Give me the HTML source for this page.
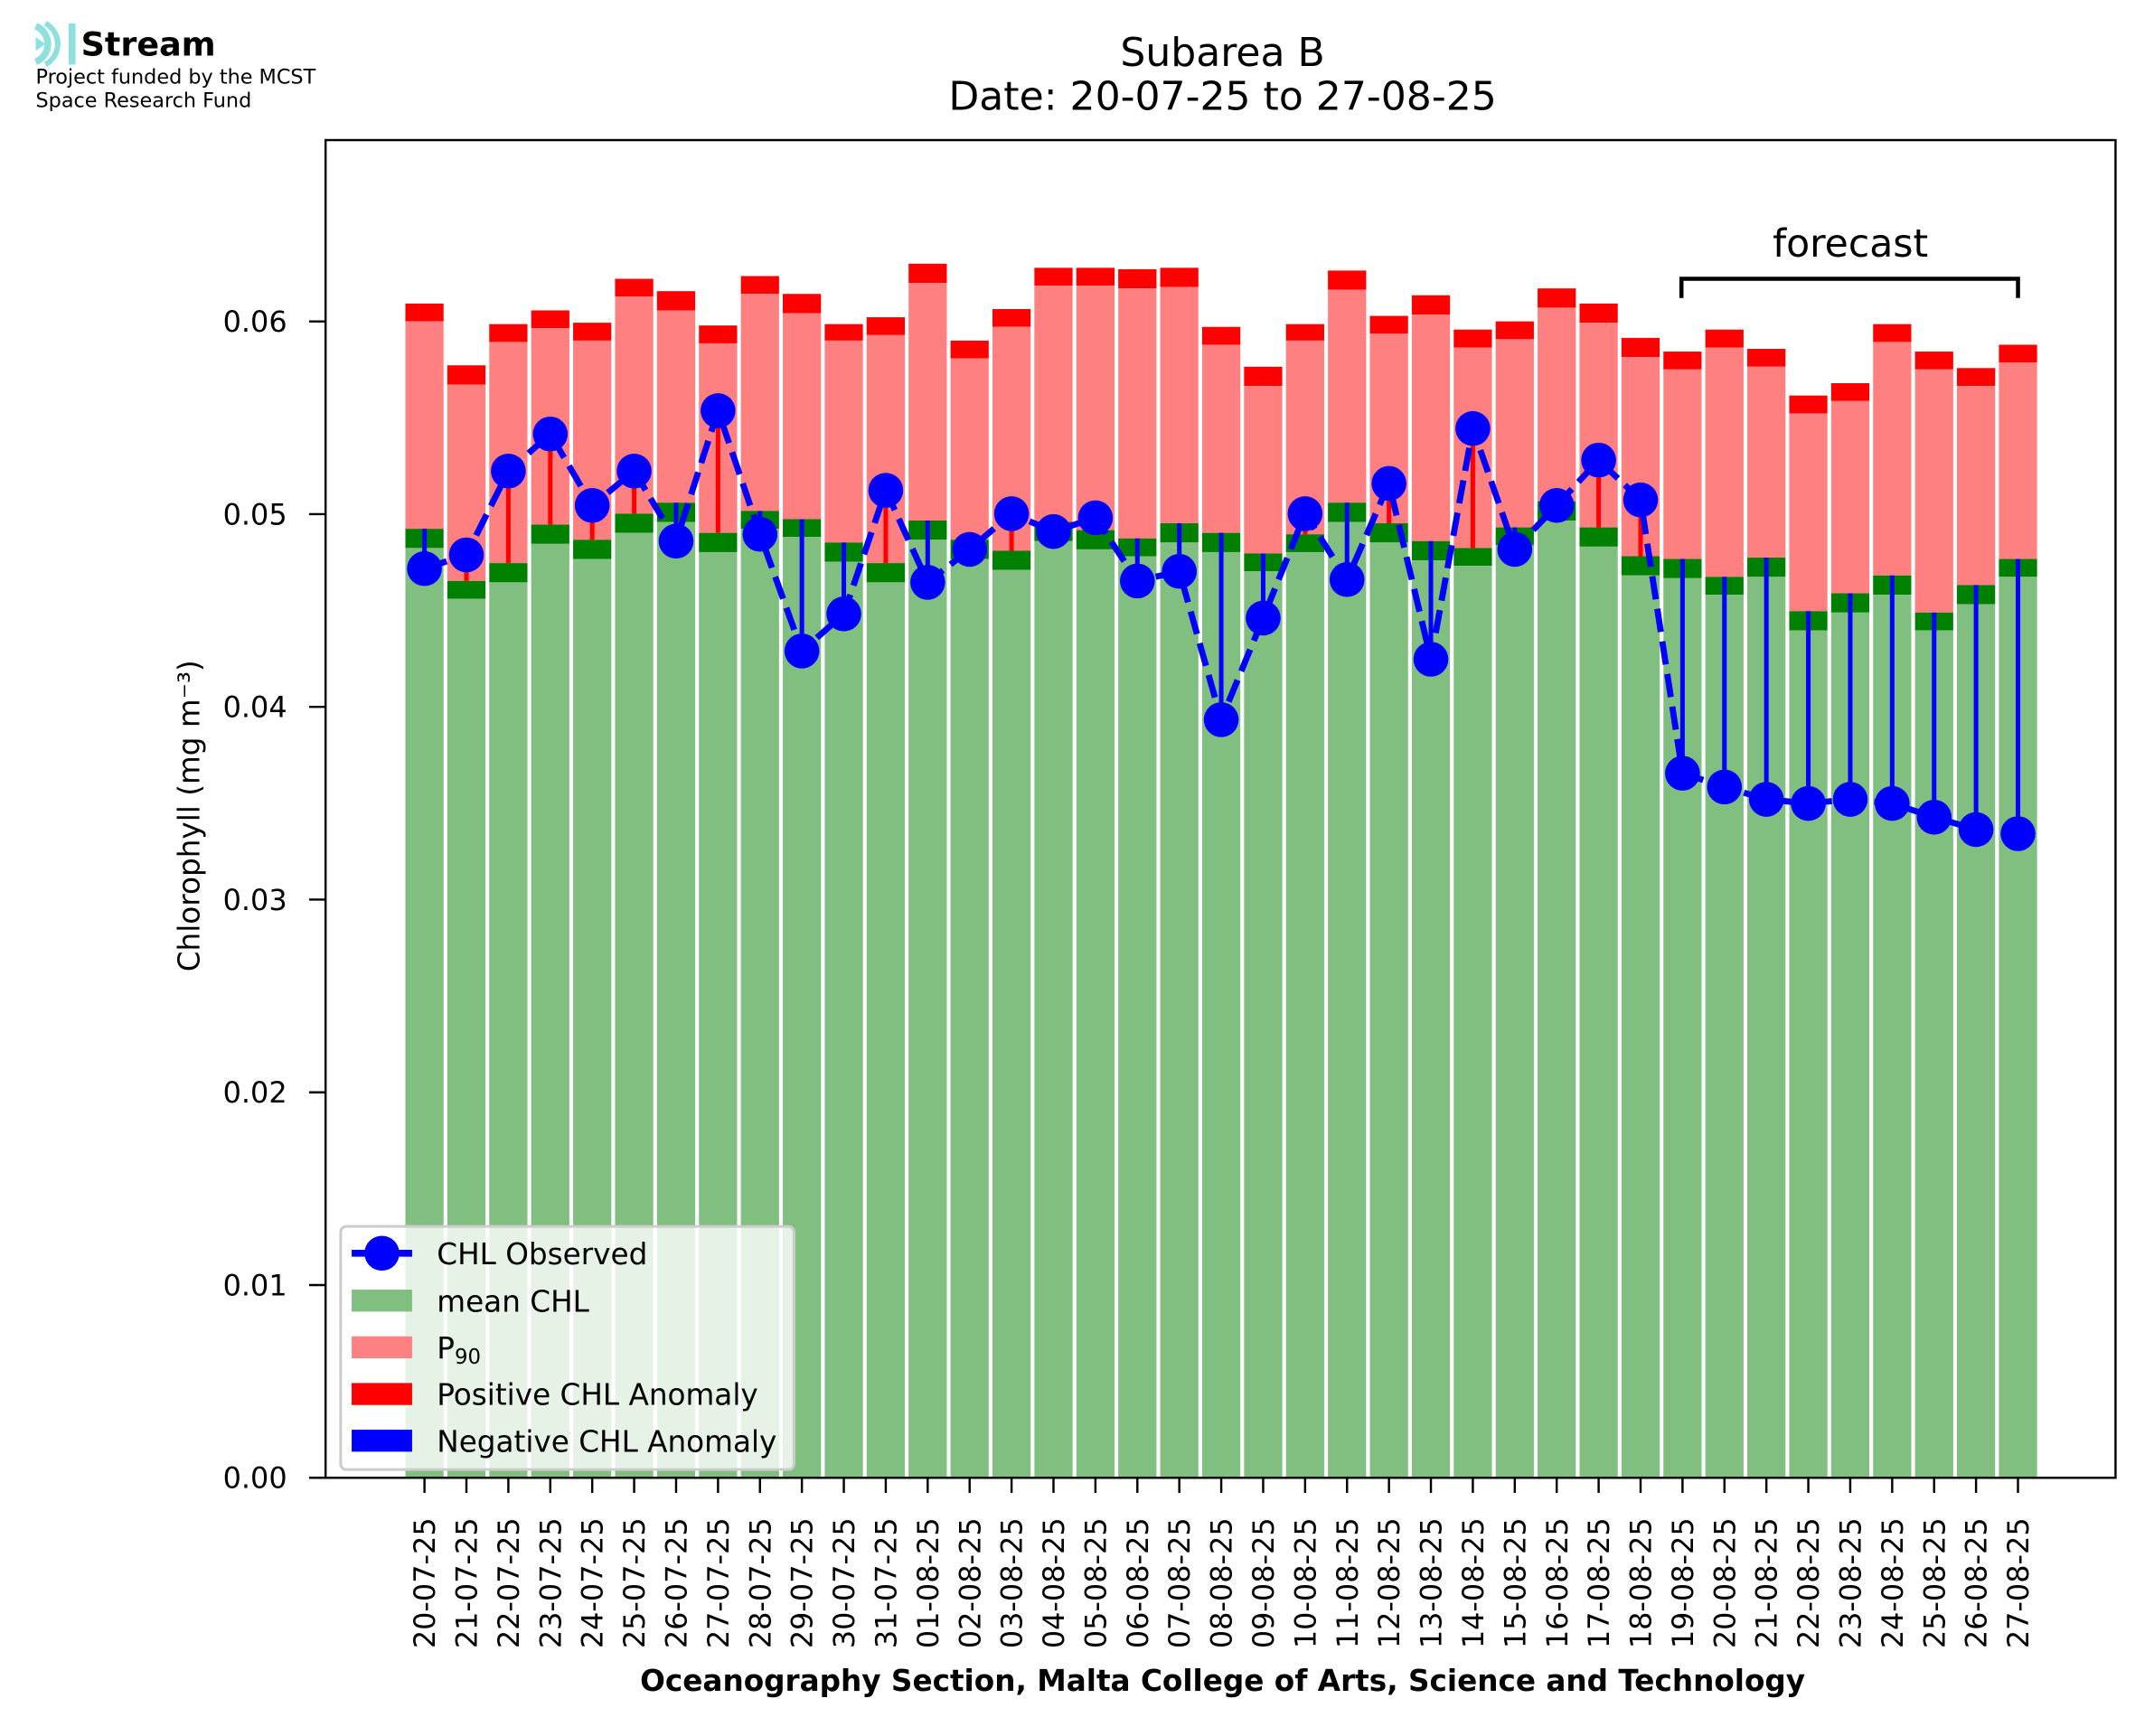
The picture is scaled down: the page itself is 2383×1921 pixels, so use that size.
<!DOCTYPE html>
<html><head><meta charset="utf-8"><style>html,body{margin:0;padding:0;background:#fff}svg{display:block}text{font-family:"DejaVu Sans","Liberation Sans",sans-serif}</style></head>
<body>
<svg id="s" width="2383" height="1921" viewBox="0 0 1568 1264" xmlns="http://www.w3.org/2000/svg">
<rect width="1568" height="1264" fill="#fff"/>
<g id="bars"></g>
<g id="fg"></g>
<rect x="237" y="102" width="1303" height="974" fill="none" stroke="#000" stroke-width="1.6"/>
<g id="ticks" font-size="21"></g>
<text x="890" y="48" font-size="29" text-anchor="middle">Subarea B</text>
<text x="890" y="80" font-size="29" text-anchor="middle">Date: 20-07-25 to 27-08-25</text>
<path d="M1224 217 V203 H1469 V217" fill="none" stroke="#000" stroke-width="3"/>
<text x="1347" y="187" font-size="28" text-anchor="middle">forecast</text>
<text x="890" y="1231" font-size="21.5" font-weight="bold" text-anchor="middle">Oceanography Section, Malta College of Arts, Science and Technology</text>
<text transform="translate(145,594) rotate(-90)" font-size="21.5" text-anchor="middle">Chlorophyll (mg m⁻³)</text>
<g>
<path d="M26 19 A14 14 0 0 1 26 45" fill="none" stroke="#8ee0dc" stroke-width="5"/>
<path d="M33 17 A17 17 0 0 1 33 47" fill="none" stroke="#8ee0dc" stroke-width="4"/>
<path d="M26 27 L33 32 L26 37 Z" fill="#8ee0dc"/>
<rect x="50" y="17" width="5" height="30" fill="#8ee0dc"/>
<text x="59" y="40.5" font-size="24" font-weight="bold">Stream</text>
<text x="26" y="60.7" font-size="14.7">Project funded by the MCST</text>
<text x="26" y="78" font-size="14.7">Space Research Fund</text>
</g>
<g id="leg"></g>
</svg>
<script>
var d=[[221,234,385,399,414],[266,280,423,436,404],[236,249,410,424,343],[226,239,382,396,316],[235,248,393,407,368],[203,216,374,388,343],[212,226,366,380,394],[237,250,388,402,299],[201,214,372,385,389],[214,228,378,391,474],[236,248,395,409,447],[231,244,410,424,357],[192,206,379,393,424],[248,261,393,407,400],[225,238,401,415,374],[195,208,380,394,387],[195,208,386,400,377],[196,210,392,405,423],[195,209,381,395,416],[238,251,388,402,524],[267,281,403,416,450],[236,248,389,402,374],[197,211,366,380,422],[230,243,381,395,352],[215,229,394,408,480],[240,253,399,412,312],[234,247,384,397,400],[210,224,365,379,368],[221,235,384,398,335],[246,260,405,419,364],[256,269,407,421,563],[240,253,420,433,573],[254,267,406,420,582],[288,301,445,459,585],[279,292,432,446,582],[236,249,419,433,585],[256,269,446,459,595],[268,281,426,440,604],[251,264,407,420,607]];
var L=["20-07-25","21-07-25","22-07-25","23-07-25","24-07-25","25-07-25","26-07-25","27-07-25","28-07-25","29-07-25","30-07-25","31-07-25","01-08-25","02-08-25","03-08-25","04-08-25","05-08-25","06-08-25","07-08-25","08-08-25","09-08-25","10-08-25","11-08-25","12-08-25","13-08-25","14-08-25","15-08-25","16-08-25","17-08-25","18-08-25","19-08-25","20-08-25","21-08-25","22-08-25","23-08-25","24-08-25","25-08-25","26-08-25","27-08-25"];
var b="",f="",t="",pts=[];
function X(i){return 309+i*30.526}
d.forEach(function(v,i){var x=X(i)-13.9,w=27.8;
b+='<rect x="'+x+'" y="'+v[0]+'" width="'+w+'" height="'+(v[1]-v[0])+'" fill="#ff0000"/>';
b+='<rect x="'+x+'" y="'+v[1]+'" width="'+w+'" height="'+(v[2]-v[1])+'" fill="#ff8080"/>';
b+='<rect x="'+x+'" y="'+v[2]+'" width="'+w+'" height="'+(v[3]-v[2])+'" fill="#008000"/>';
b+='<rect x="'+x+'" y="'+v[3]+'" width="'+w+'" height="'+(1076-v[3])+'" fill="#80bf80"/>';
var c=X(i),col=v[4]<v[2]?"#ff0000":"#0000ff";
if(Math.abs(v[4]-v[2])>3)b+='<line x1="'+c+'" x2="'+c+'" y1="'+v[4]+'" y2="'+v[2]+'" stroke="'+col+'" stroke-width="3.3"/>';
pts.push(c+','+v[4]);
t+='<line x1="'+c+'" x2="'+c+'" y1="1076" y2="1087" stroke="#000" stroke-width="1.6"/>';
t+='<text transform="translate('+(c+7.6)+',1105) rotate(-90)" text-anchor="end">'+L[i]+'</text>';
});
f+='<polyline points="'+pts.join(' ')+'" fill="none" stroke="#0000ff" stroke-width="4.5" stroke-dasharray="17,7"/>';
pts.forEach(function(p){var q=p.split(',');f+='<circle cx="'+q[0]+'" cy="'+q[1]+'" r="12.7" fill="#0000ff"/>';});
for(var k=0;k<=6;k++){var y=1076-k*140.33;t+='<line x1="225" x2="237" y1="'+y+'" y2="'+y+'" stroke="#000" stroke-width="1.6"/><text x="209" y="'+(y+7.5)+'" text-anchor="end">'+(k/100).toFixed(2)+'</text>';}
document.getElementById('bars').innerHTML=b;
document.getElementById('fg').innerHTML=f;
document.getElementById('ticks').innerHTML=t;
var g='<rect x="248" y="893" width="330" height="177" rx="4" fill="#fff" fill-opacity="0.8" stroke="#ccc" stroke-width="2"/>';
g+='<line x1="256" x2="300" y1="912.5" y2="912.5" stroke="#0000ff" stroke-width="5"/><circle cx="278" cy="912.5" r="12.7" fill="#0000ff"/>';
var cols=["#80bf80","#ff8080","#ff0000","#0000ff"],ys=[947,981,1015,1049];
cols.forEach(function(c,i){g+='<rect x="256" y="'+(ys[i]-8)+'" width="44" height="16" fill="'+c+'"/>';});
g+='<g font-size="21.5"><text x="318" y="920.5">CHL Observed</text><text x="318" y="955">mean CHL</text><text x="318" y="989">P<tspan font-size="15" dy="4">90</tspan></text><text x="318" y="1023">Positive CHL Anomaly</text><text x="318" y="1057">Negative CHL Anomaly</text></g>';
document.getElementById('leg').innerHTML=g;
</script>
</body></html>
